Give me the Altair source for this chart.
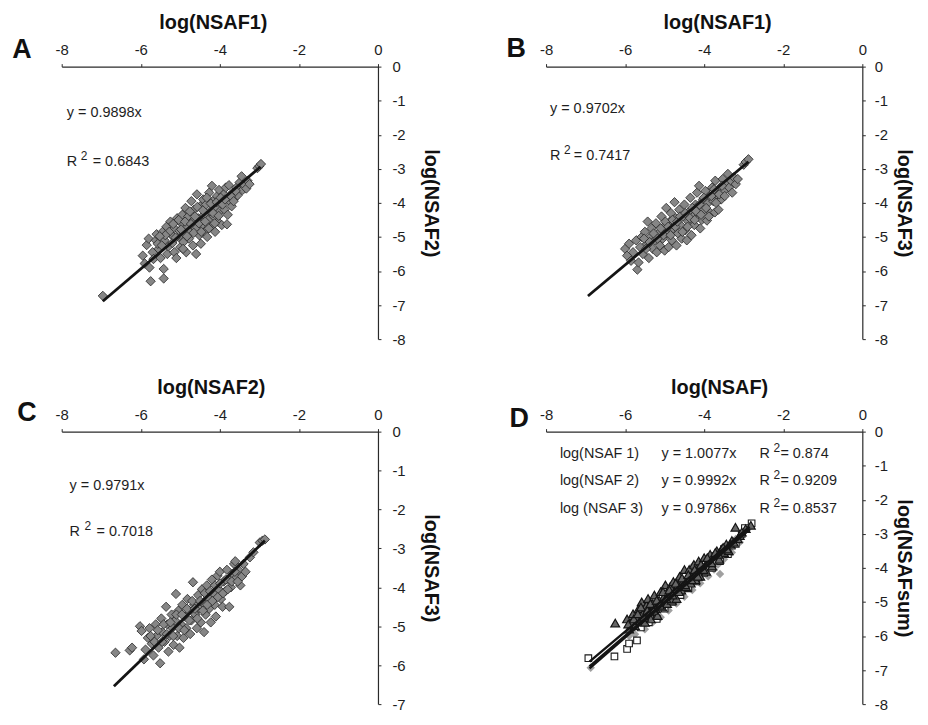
import altair as alt
import pandas as pd

FONT = "Liberation Sans"

# ---------------- Panel A : log(NSAF1) vs log(NSAF2) ----------------
a_x = [-6.96, -5.95, -5.90, -5.85, -5.80, -5.78, -5.75, -5.70, -5.68, -5.62,
       -5.60, -5.55, -5.50, -5.45, -5.42, -5.42, -5.40, -5.35, -5.33, -5.30,
       -5.25, -5.22, -5.20, -5.15, -5.15, -5.10, -5.08, -5.05, -5.02, -5.00,
       -4.97, -4.95, -4.92, -4.90, -4.87, -4.85, -4.82, -4.80, -4.78, -4.75,
       -4.72, -4.70, -4.68, -4.65, -4.62, -4.60, -4.58, -4.55, -4.52, -4.50,
       -4.48, -4.45, -4.42, -4.40, -4.38, -4.35, -4.32, -4.30, -4.27, -4.25,
       -4.22, -4.20, -4.18, -4.15, -4.12, -4.10, -4.07, -4.05, -4.02, -4.00,
       -3.97, -3.95, -3.90, -3.88, -3.85, -3.82, -3.80, -3.77, -3.75, -3.70,
       -3.68, -3.62, -3.58, -3.55, -3.50, -3.45, -3.42, -3.38, -3.33, -3.30,
       -3.25, -3.05, -3.00, -2.96,
       -5.28, -5.18, -5.12, -5.04, -4.98, -4.93, -4.88, -4.83, -4.76, -4.73,
       -4.66, -4.63, -4.57, -4.53, -4.47, -4.43, -4.37, -4.33, -4.28, -4.23,
       -4.17, -4.13, -4.08, -4.03, -3.98, -3.93, -3.87, -3.72, -3.65, -3.60,
       -5.57, -5.47, -5.38, -5.52]
a_y = [-6.73, -5.55, -5.78, -5.24, -5.05, -5.90, -6.30, -5.45, -5.65, -5.10,
       -4.92, -5.35, -5.62, -4.85, -6.22, -5.94, -5.10, -4.70, -5.50, -5.28,
       -4.55, -4.95, -5.18, -5.45, -4.75, -5.62, -4.45, -5.00, -4.82, -5.30,
       -4.60, -4.35, -5.15, -4.90, -4.15, -5.45, -4.70, -4.40, -5.05, -4.85,
       -3.95, -4.55, -5.25, -4.20, -4.75, -5.50, -3.75, -4.45, -4.95, -4.10,
       -5.20, -4.65, -3.90, -4.35, -4.85, -4.05, -5.00, -4.50, -3.70, -4.25,
       -4.70, -3.50, -3.95, -4.40, -4.85, -4.15, -3.80, -4.55, -3.62, -4.25,
       -3.95, -4.65, -3.75, -4.20, -3.55, -4.63, -4.35, -3.48, -3.95, -4.10,
       -3.70, -3.85, -3.55, -3.78, -3.40, -3.22, -3.62, -3.48, -3.58, -3.35,
       -3.45, -2.98, -2.92, -2.86,
       -4.85, -4.62, -5.02, -4.50, -4.78, -5.35, -4.55, -4.98, -4.25, -4.62,
       -4.88, -4.40, -4.12, -4.60, -4.85, -4.22, -4.55, -3.85, -4.75, -4.02,
       -4.30, -4.60, -3.98, -4.38, -3.85, -4.05, -3.90, -3.80, -3.95, -3.65,
       -5.20, -5.25, -4.95, -4.98]
a_line_x = [-6.96, -2.97]
a_slope = 0.9898
a_eq = "y = 0.9898x"
a_r2 = "= 0.6843"

# ---------------- Panel B : log(NSAF1) vs log(NSAF3) ----------------
b_x = [-6.00, -5.95, -5.90, -5.85, -5.80, -5.72, -5.69, -5.66, -5.62, -5.58,
       -5.55, -5.50, -5.45, -5.43, -5.40, -5.36, -5.33, -5.30, -5.25, -5.22,
       -5.20, -5.15, -5.12, -5.08, -5.05, -5.02, -5.00, -4.96, -4.93, -4.90,
       -4.87, -4.84, -4.82, -4.78, -4.75, -4.72, -4.70, -4.66, -4.63, -4.60,
       -4.57, -4.54, -4.50, -4.47, -4.44, -4.40, -4.38, -4.35, -4.32, -4.28,
       -4.25, -4.22, -4.18, -4.15, -4.13, -4.10, -4.06, -4.03, -4.00, -3.97,
       -3.93, -3.90, -3.87, -3.84, -3.80, -3.77, -3.73, -3.72, -3.68, -3.64,
       -3.60, -3.57, -3.53, -3.50, -3.45, -3.40, -3.37, -3.32, -3.29, -3.25,
       -3.20, -3.15, -3.00, -2.95, -2.88,
       -5.52, -5.47, -5.38, -5.28, -5.18, -5.10, -5.03, -4.98, -4.91, -4.85,
       -4.80, -4.73, -4.68, -4.61, -4.55, -4.48, -4.42, -4.36, -4.30, -4.24,
       -4.20, -4.12, -4.08, -4.01, -3.95, -3.88, -3.82, -3.75, -3.70, -3.62,
       -3.55, -3.48]
b_y = [-5.35, -5.55, -5.20, -5.70, -5.45, -5.10, -5.96, -5.75, -5.30, -5.00,
       -5.50, -4.85, -5.20, -4.55, -5.62, -5.00, -4.75, -5.35, -5.10, -4.60,
       -5.45, -4.88, -5.25, -4.40, -5.05, -4.70, -5.40, -4.15, -4.90, -5.30,
       -4.55, -4.30, -5.10, -4.75, -3.98, -4.45, -5.25, -4.90, -4.20, -4.65,
       -5.05, -4.40, -4.05, -4.80, -5.10, -4.55, -4.25, -3.85, -4.95, -4.40,
       -4.65, -4.05, -3.70, -4.30, -3.50, -4.75, -4.50, -3.90, -4.20, -3.65,
       -4.52, -4.00, -3.80, -4.30, -3.55, -3.95, -4.28, -3.35, -3.75, -4.20,
       -3.55, -3.90, -3.30, -3.65, -3.45, -3.15, -3.55, -3.35, -3.70, -3.25,
       -3.45, -3.30, -2.88, -2.80, -2.72,
       -5.05, -5.35, -5.15, -4.90, -5.05, -4.75, -4.95, -4.55, -4.70, -4.95,
       -4.50, -4.70, -4.55, -4.40, -4.85, -4.30, -4.70, -4.45, -4.15, -4.50,
       -4.25, -4.05, -4.35, -3.85, -4.15, -4.40, -3.80, -3.60, -4.00, -3.75,
       -3.50, -3.80]
b_line_x = [-6.94, -2.88]
b_slope = 0.9702
b_eq = "y = 0.9702x"
b_r2 = "= 0.7417"

# ---------------- Panel C : log(NSAF2) vs log(NSAF3) ----------------
c_x = [-6.64, -6.28, -6.22, -6.02, -5.98, -5.92, -5.88, -5.82, -5.78, -5.72,
       -5.68, -5.62, -5.60, -5.55, -5.51, -5.48, -5.45, -5.40, -5.36, -5.33,
       -5.30, -5.27, -5.22, -5.20, -5.17, -5.13, -5.11, -5.08, -5.05, -5.02,
       -4.98, -4.95, -4.92, -4.88, -4.85, -4.82, -4.78, -4.75, -4.72, -4.68,
       -4.65, -4.62, -4.58, -4.55, -4.52, -4.48, -4.45, -4.42, -4.40, -4.36,
       -4.33, -4.30, -4.27, -4.23, -4.20, -4.17, -4.13, -4.10, -4.06, -4.03,
       -4.00, -3.97, -3.93, -3.90, -3.86, -3.82, -3.78, -3.76, -3.72, -3.68,
       -3.64, -3.61, -3.58, -3.53, -3.48, -3.44, -3.40, -3.35, -3.24, -3.15,
       -2.99, -2.92, -2.86,
       -5.75, -5.65, -5.57, -5.46, -5.42, -5.34, -5.25, -5.18, -5.10, -5.03,
       -4.96, -4.90, -4.83, -4.77, -4.70, -4.63, -4.57, -4.50, -4.43, -4.38,
       -4.32, -4.25, -4.19, -4.12, -4.05, -3.99, -3.92, -3.85, -3.80, -3.70,
       -3.62, -3.55]
c_y = [-5.68, -5.62, -5.55, -5.00, -5.12, -5.85, -5.60, -5.30, -5.05, -5.45,
       -5.75, -4.95, -5.25, -5.55, -5.95, -4.80, -5.15, -5.40, -4.50, -4.95,
       -5.65, -5.25, -4.70, -5.05, -5.48, -4.85, -4.17, -5.25, -4.60, -5.55,
       -4.95, -4.45, -5.30, -4.75, -5.05, -4.30, -4.60, -5.20, -4.85, -3.87,
       -4.45, -4.70, -5.05, -4.20, -4.55, -4.90, -4.05, -4.40, -5.15, -4.70,
       -3.95, -4.25, -4.55, -4.90, -3.80, -4.15, -4.45, -4.75, -3.70, -4.05,
       -3.60, -4.30, -4.50, -3.85, -4.10, -3.55, -3.80, -4.50, -4.00, -3.65,
       -3.40, -3.33, -3.75, -3.55, -3.95, -3.72, -3.40, -3.60, -3.23, -3.10,
       -2.85, -2.80, -2.77,
       -5.25, -5.40, -5.10, -5.40, -4.95, -5.20, -4.90, -5.25, -4.70, -5.05,
       -4.70, -5.10, -4.55, -4.85, -4.35, -4.55, -4.80, -4.35, -4.60, -4.15,
       -4.45, -4.10, -4.35, -3.95, -4.25, -3.90, -4.15, -3.80, -4.05, -3.85,
       -3.60, -3.85]
c_line_x = [-6.68, -2.86]
c_slope = 0.9791
c_eq = "y = 0.9791x"
c_r2 = "= 0.7018"

# ---------------- Panel D : log(NSAF) vs log(NSAFsum) ----------------
d1_x = [-6.87, -5.90, -5.75, -5.60, -5.50, -5.40, -5.30, -5.20, -5.10, -5.00,
        -4.90, -4.80, -4.70, -4.60, -4.60, -4.50, -4.40, -4.30, -4.27, -4.20,
        -4.10, -4.00, -3.90, -3.80, -3.75, -3.65, -3.60, -3.60, -3.50, -3.40,
        -3.30, -3.20, -3.10, -3.00, -2.85]
d1_y = [-6.93, -6.00, -5.95, -5.50, -5.80, -5.35, -5.60, -5.15, -5.45, -4.95,
        -5.25, -4.75, -5.05, -4.55, -4.76, -4.85, -4.35, -4.65, -3.92, -4.15,
        -4.45, -3.95, -4.25, -3.75, -4.05, -3.90, -3.60, -4.18, -3.75, -3.40,
        -3.55, -3.15, -3.25, -2.95, -2.80]
d2_x = [-6.93, -6.27, -5.95, -5.90, -5.70, -5.60, -5.50, -5.40, -5.30, -5.20,
        -5.10, -5.00, -4.90, -4.80, -4.70, -4.60, -4.50, -4.40, -4.30, -4.20,
        -4.10, -4.00, -3.90, -3.80, -3.70, -3.60, -3.50, -3.40, -3.30, -3.20,
        -3.05, -2.97, -2.80]
d2_y = [-6.65, -6.60, -6.38, -6.22, -6.13, -5.75, -5.45, -5.60, -5.25, -5.50,
        -5.05, -5.20, -4.85, -5.00, -4.60, -4.80, -4.45, -4.60, -4.25, -4.40,
        -4.00, -4.15, -3.85, -4.00, -3.65, -3.80, -3.45, -3.60, -3.35, -3.30,
        -3.00, -2.83, -2.69]
d3_x = [-6.25, -5.95, -5.90, -5.85, -5.80, -5.75, -5.70, -5.66, -5.62, -5.58,
        -5.55, -5.50, -5.46, -5.42, -5.38, -5.35, -5.30, -5.26, -5.22, -5.18,
        -5.14, -5.10, -5.06, -5.02, -4.98, -4.94, -4.90, -4.86, -4.82, -4.78,
        -4.74, -4.70, -4.66, -4.62, -4.58, -4.54, -4.50, -4.46, -4.42, -4.38,
        -4.34, -4.30, -4.26, -4.22, -4.18, -4.14, -4.10, -4.05, -4.00, -3.95,
        -3.90, -3.85, -3.80, -3.74, -3.68, -3.62, -3.56, -3.50, -3.44, -3.38,
        -3.30, -3.21, -3.10, -2.95, -2.82,
        -5.92, -5.78, -5.68, -5.60, -5.52, -5.44, -5.36, -5.28, -5.20, -5.12,
        -5.04, -4.96, -4.88, -4.80, -4.72, -4.64, -4.56, -4.48, -4.40, -4.32,
        -4.24, -4.16, -4.08, -4.02, -3.92, -3.82, -3.72, -3.64, -3.52, -3.42,
        -3.34, -3.25, -3.15, -3.05]
d3_y = [-5.62, -5.50, -5.80, -5.60, -5.35, -5.70, -5.45, -5.20, -5.55, -5.00,
        -5.35, -5.60, -5.10, -4.90, -5.30, -5.50, -5.05, -4.80, -5.20, -5.40,
        -4.95, -4.70, -5.15, -4.85, -4.50, -5.05, -4.75, -4.55, -4.95, -4.40,
        -4.70, -4.90, -4.50, -4.25, -4.65, -4.40, -4.05, -4.55, -4.30, -4.05,
        -4.45, -4.20, -3.90, -4.35, -4.10, -3.80, -4.25, -3.95, -3.70, -4.10,
        -3.80, -3.60, -3.95, -3.65, -3.50, -3.75, -3.45, -3.55, -3.30, -3.50,
        -3.20, -2.81, -3.05, -2.85, -2.75,
        -5.65, -5.50, -5.35, -5.15, -5.45, -5.25, -5.05, -5.25, -4.95, -5.10,
        -4.70, -4.90, -4.65, -4.80, -4.45, -4.70, -4.30, -4.50, -4.20, -4.35,
        -4.05, -4.25, -3.90, -4.05, -3.70, -3.85, -3.55, -3.60, -3.40, -3.45,
        -3.30, -3.25, -3.15, -2.95]
d_line_x = [-6.90, -2.85]
d_slopes = [1.0077, 0.9992, 0.9786]
d_names = ["log(NSAF 1)", "log(NSAF 2)", "log (NSAF 3)"]
d_eqs = ["y = 1.0077x", "y = 0.9992x", "y = 0.9786x"]
d_r2 = ["= 0.874", "= 0.9209", "= 0.8537"]

TICK_COLOR = "#2a2a2a"
TEXT_COLOR = "#1e1e1e"
HYPHEN = "'' + datum.value"


def encodings(xtitle, ytitle, ymin, title_x, lab_pad, title_pad):
    X = alt.X("x:Q", title=xtitle,
              scale=alt.Scale(domain=[-8, 0], nice=False, zero=False),
              axis=alt.Axis(orient="top", values=[-8, -6, -4, -2, 0],
                            labelFlush=False, grid=False, labelExpr=HYPHEN,
                            titleX=title_x))
    Y = alt.Y("y:Q", title=ytitle,
              scale=alt.Scale(domain=[ymin, 0], nice=False, zero=False),
              axis=alt.Axis(orient="right", values=list(range(ymin, 1)),
                            grid=False, labelExpr=HYPHEN,
                            labelPadding=lab_pad, titlePadding=title_pad))
    return X, Y


def scatter(xs, ys, X, Y, shape="diamond", fill="#868686", stroke="#262626",
            size=88, sw=0.8):
    df = pd.DataFrame({"x": xs, "y": ys})
    return alt.Chart(df).mark_point(shape=shape, filled=True, fill=fill,
                                    stroke=stroke, strokeWidth=sw, size=size,
                                    opacity=1).encode(x=X, y=Y)


def fit_line(line_x, slope, X, Y, width=2.8):
    df = pd.DataFrame({"x": line_x})
    return (alt.Chart(df)
            .transform_calculate(y=f"datum.x * {slope}")
            .mark_line(color="#141414", strokeWidth=width)
            .encode(x=X, y=Y))


def label(text, x, y, X, Y, dx=0, dy=0, size=14.5):
    df = pd.DataFrame({"x": [x], "y": [y], "t": [text]})
    return alt.Chart(df).mark_text(align="left", baseline="middle",
                                   font=FONT, fontSize=size, color=TEXT_COLOR,
                                   dx=dx, dy=dy).encode(x=X, y=Y, text="t:N")


def r2(value, x, y, X, Y, d2=14, deq=26):
    return [label("R", x, y, X, Y),
            label("2", x, y, X, Y, dx=d2, dy=-6, size=12),
            label(value, x, y, X, Y, dx=deq)]


def letter(t, px, py):
    df = pd.DataFrame({"t": [t]})
    return alt.Chart(df).mark_text(align="center", baseline="alphabetic",
                                   font=FONT, fontSize=27, fontWeight="bold",
                                   color="#111").encode(
        x=alt.value(px), y=alt.value(py), text="t:N")


W = 318
H = 274

# Panel A
XA, YA = encodings("log(NSAF1)", "log(NSAF2)", -8, 152, 11, 15)
panelA = alt.layer(
    scatter(a_x, a_y, XA, YA),
    fit_line(a_line_x, a_slope, XA, YA),
    label(a_eq, -7.87, -1.35, XA, YA),
    *r2(a_r2, -7.87, -2.79, XA, YA, d2=14, deq=26),
    letter("A", -40, -9),
).properties(width=W, height=H)

# Panel B
XB, YB = encodings("log(NSAF1)", "log(NSAF3)", -8, 172, 9, 6)
panelB = alt.layer(
    scatter(b_x, b_y, XB, YB),
    fit_line(b_line_x, b_slope, XB, YB),
    label(b_eq, -7.9, -1.24, XB, YB),
    *r2(b_r2, -7.9, -2.63, XB, YB, d2=14, deq=24),
    letter("B", -30, -10),
).properties(width=W, height=H)

# Panel C
XC, YC = encodings("log(NSAF2)", "log(NSAF3)", -7, 150, 11, 15)
panelC = alt.layer(
    scatter(c_x, c_y, XC, YC),
    fit_line(c_line_x, c_slope, XC, YC),
    label(c_eq, -7.8, -1.4, XC, YC),
    *r2(c_r2, -7.8, -2.57, XC, YC, d2=15, deq=27),
    letter("C", -35, -11),
).properties(width=W, height=H)

# Panel D
XD, YD = encodings("log(NSAF)", "log(NSAFsum)", -8, 174, 9, 6)
d_layers = [
    scatter(d1_x, d1_y, XD, YD, fill="#a0a0a0", stroke="#a0a0a0", size=72, sw=0),
    scatter(d2_x, d2_y, XD, YD, shape="square", fill="white", stroke="#1a1a1a",
            size=44, sw=1.1),
    scatter(d3_x, d3_y, XD, YD, shape="triangle-up", fill="#666666",
            stroke="#141414", size=78, sw=1.2),
]
for s in d_slopes:
    d_layers.append(fit_line(d_line_x, s, XD, YD, width=2.4))
d_rows_y = [-0.66, -1.46, -2.26]
for name, eq, rv, yy in zip(d_names, d_eqs, d_r2, d_rows_y):
    d_layers.append(label(name, -7.65, yy, XD, YD))
    d_layers.append(label(eq, -5.08, yy, XD, YD))
    d_layers.extend(r2(rv, -2.6, yy, XD, YD, d2=14, deq=21))
d_layers.append(letter("D", -27, -5))
panelD = alt.layer(*d_layers).properties(width=W, height=H)

chart = alt.concat(panelA, panelB, panelC, panelD, columns=2,
                   spacing={"row": 31, "column": 66}).properties(
    padding={"left": 4, "top": 3, "right": 6, "bottom": 0}
).configure_view(stroke=None).configure_axis(
    labelFont=FONT, labelFontSize=15, labelColor=TEXT_COLOR,
    titleFont=FONT, titleFontSize=20, titleFontWeight="bold",
    titleColor="#111", domainColor=TICK_COLOR, tickColor=TICK_COLOR,
    domainWidth=1.2, tickWidth=1, tickSize=3, labelPadding=6,
    titlePadding=10
)

chart.save("out.html", embed_options={"renderer": "svg", "actions": False})
